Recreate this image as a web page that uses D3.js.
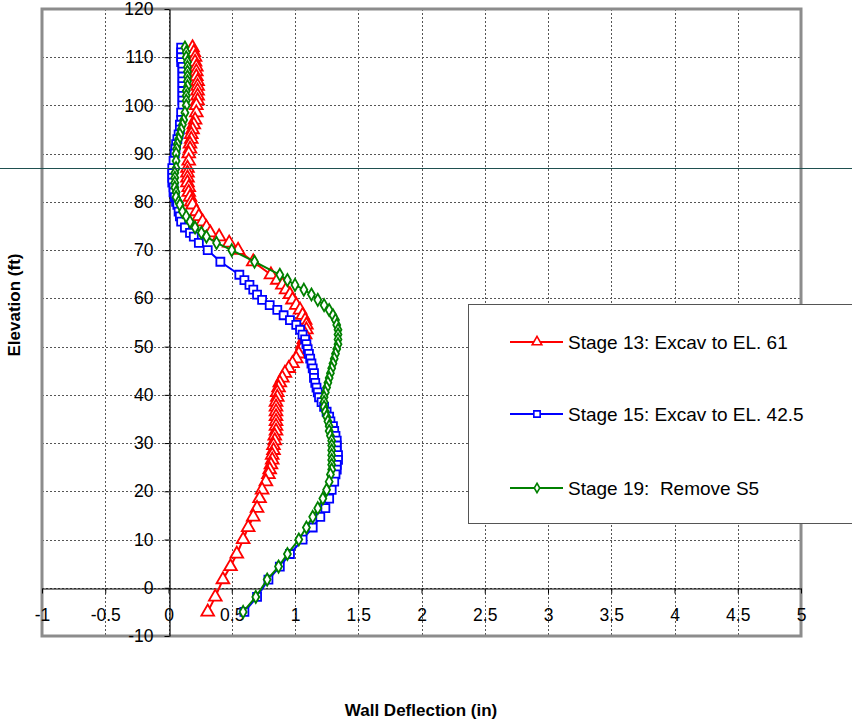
<!DOCTYPE html>
<html>
<head>
<meta charset="utf-8">
<script src="https://cdn.jsdelivr.net/npm/d3@7"></script>
<style>
  html, body { margin: 0; padding: 0; background: #fff; }
  svg { display: block; font-family: "Liberation Sans", Arial, sans-serif; }
  text { white-space: pre; }
</style>
</head>
<body>
<svg id="chart" width="852" height="719"></svg>
<script>
// ---- DATA ----
const elevations = [112, 111, 110, 109, 108, 107, 106, 105, 104, 103, 102, 101, 100, 98.5, 97, 96, 95, 94, 93, 92, 91, 90, 88.5, 87, 86, 85, 84, 83, 82, 81, 80, 79.4, 78, 77, 75.9, 74.7, 73.6, 72.8, 71.5, 70, 67.6, 64.9, 63.8, 62.8, 61.8, 60.8, 59.7, 58.6, 57.6, 56.5, 55.5, 54.5, 53.5, 52.5, 51.5, 50.5, 49.5, 48.5, 47.5, 46.5, 45.5, 44.5, 43.5, 42.5, 41.5, 40.5, 39.5, 38.5, 37.5, 36.5, 35.5, 34.5, 33.5, 32.5, 31.5, 30.5, 29.5, 28.5, 27.5, 26.5, 25.5, 24.5, 23.5, 22, 20.3, 18.5, 16.5, 14.7, 12.5, 10, 7, 4.4, 1.7, -1.9, -5];

const stage13 = [0.19, 0.20, 0.21, 0.21, 0.22, 0.22, 0.22, 0.23, 0.23, 0.23, 0.23, 0.23, 0.22, 0.22, 0.21, 0.20, 0.19, 0.18, 0.18, 0.17, 0.17, 0.16, 0.16, 0.15, 0.15, 0.15, 0.15, 0.16, 0.16, 0.17, 0.18, 0.19, 0.22, 0.24, 0.27, 0.30, 0.33, 0.40, 0.48, 0.55, 0.67, 0.81, 0.86, 0.90, 0.93, 0.96, 0.98, 1.01, 1.04, 1.06, 1.08, 1.09, 1.09, 1.08, 1.07, 1.06, 1.05, 1.03, 1.01, 0.98, 0.95, 0.92, 0.90, 0.88, 0.87, 0.86, 0.86, 0.85, 0.85, 0.85, 0.85, 0.85, 0.85, 0.85, 0.84, 0.84, 0.83, 0.83, 0.82, 0.82, 0.81, 0.80, 0.79, 0.77, 0.74, 0.72, 0.70, 0.67, 0.63, 0.59, 0.54, 0.49, 0.43, 0.37, 0.31];

const stage15 = [0.10, 0.10, 0.10, 0.10, 0.11, 0.11, 0.11, 0.11, 0.11, 0.11, 0.11, 0.11, 0.11, 0.10, 0.10, 0.09, 0.09, 0.08, 0.07, 0.06, 0.055, 0.05, 0.04, 0.03, 0.03, 0.03, 0.03, 0.04, 0.04, 0.05, 0.06, 0.07, 0.08, 0.09, 0.10, 0.13, 0.17, 0.20, 0.24, 0.31, 0.41, 0.56, 0.60, 0.64, 0.67, 0.70, 0.74, 0.80, 0.86, 0.91, 0.96, 1.01, 1.04, 1.06, 1.08, 1.09, 1.10, 1.11, 1.12, 1.13, 1.14, 1.15, 1.15, 1.16, 1.17, 1.18, 1.19, 1.21, 1.23, 1.25, 1.27, 1.28, 1.30, 1.31, 1.32, 1.33, 1.33, 1.33, 1.34, 1.34, 1.33, 1.33, 1.32, 1.31, 1.29, 1.27, 1.24, 1.20, 1.14, 1.06, 0.96, 0.88, 0.79, 0.70, 0.60];

const stage19 = [0.13, 0.14, 0.14, 0.15, 0.15, 0.15, 0.15, 0.15, 0.15, 0.14, 0.14, 0.14, 0.14, 0.13, 0.12, 0.11, 0.10, 0.09, 0.08, 0.07, 0.065, 0.06, 0.06, 0.06, 0.05, 0.05, 0.05, 0.05, 0.06, 0.06, 0.08, 0.09, 0.11, 0.14, 0.17, 0.21, 0.26, 0.30, 0.38, 0.50, 0.68, 0.88, 0.94, 1.00, 1.07, 1.13, 1.18, 1.23, 1.27, 1.30, 1.32, 1.33, 1.34, 1.34, 1.34, 1.34, 1.33, 1.32, 1.31, 1.30, 1.29, 1.28, 1.27, 1.26, 1.25, 1.24, 1.23, 1.23, 1.23, 1.24, 1.25, 1.26, 1.27, 1.27, 1.28, 1.29, 1.29, 1.29, 1.29, 1.29, 1.29, 1.29, 1.28, 1.27, 1.25, 1.22, 1.18, 1.14, 1.09, 1.03, 0.94, 0.87, 0.78, 0.69, 0.59];

const seriesNames = ["Stage 13: Excav to EL. 61", "Stage 15: Excav to EL. 42.5", "Stage 19:  Remove S5"];
const xTickValues = [-1, -0.5, 0, 0.5, 1, 1.5, 2, 2.5, 3, 3.5, 4, 4.5, 5];
const yTickValues = [-10, 0, 10, 20, 30, 40, 50, 60, 70, 80, 90, 100, 110, 120];
const xTitle = "Wall Deflection (in)";
const yTitle = "Elevation (ft)";
const referenceElevation = 87; // horizontal marker line elevation (ft)

// ---- CHART ----
const svg = d3.select("#chart");
const pLeft = 42, pRight = 801, pTop = 9, pBottom = 636;
const x = d3.scaleLinear().domain([-1, 5]).range([pLeft, pRight]);
const y = d3.scaleLinear().domain([-10, 120]).range([pBottom, pTop]);

// gridlines
const grid = svg.append("g");
grid.selectAll("line.v").data(xTickValues.filter(v => v > -1 && v < 5)).join("line")
  .attr("x1", d => Math.round(x(d)) + 0.5).attr("x2", d => Math.round(x(d)) + 0.5)
  .attr("y1", pTop).attr("y2", pBottom)
  .attr("stroke", "#555").attr("stroke-width", 1).attr("stroke-dasharray", "2,2");
grid.selectAll("line.h").data(yTickValues.filter(v => v > -10 && v < 120)).join("line")
  .attr("y1", d => Math.round(y(d)) + 0.5).attr("y2", d => Math.round(y(d)) + 0.5)
  .attr("x1", pLeft).attr("x2", pRight)
  .attr("stroke", "#555").attr("stroke-width", 1).attr("stroke-dasharray", "2,2");

// plot border
svg.append("rect").attr("x", pLeft).attr("y", pTop).attr("width", pRight - pLeft).attr("height", pBottom - pTop)
  .attr("fill", "none").attr("stroke", "#8c8c8c").attr("stroke-width", 3);

// axes
const fmt = d => String(d);
const xAxis = svg.append("g").attr("transform", `translate(0,${Math.round(y(0)) + 0.5})`)
  .call(d3.axisBottom(x).tickValues(xTickValues).tickFormat(fmt).tickSize(5).tickSizeOuter(0).tickPadding(15));
const yAxis = svg.append("g").attr("transform", `translate(${Math.round(x(0)) + 0.5},0)`)
  .call(d3.axisLeft(y).tickValues(yTickValues).tickFormat(fmt).tickSize(5).tickSizeOuter(0).tickPadding(11));
[xAxis, yAxis].forEach(a => {
  a.select(".domain").attr("stroke", "#000").attr("stroke-width", 1.2);
  a.selectAll(".tick line").attr("stroke", "#000");
  a.selectAll("text").attr("font-size", 17.5).attr("font-family", "Liberation Sans, Arial, sans-serif").attr("fill", "#000");
});

// series
const colors = ["#ff0000", "#0000ff", "#008000"];
const allSeries = [stage13, stage15, stage19];
const line = d3.line().x(d => x(d[0])).y(d => y(d[1]));
const symbols = [d3.symbolTriangle, d3.symbolSquare, d3.symbolDiamond];
const symSizes = [70, 64, 42];

allSeries.forEach((vals, i) => {
  const pts = vals.map((v, k) => [v, elevations[k]]);
  const g = svg.append("g");
  g.append("path").datum(pts).attr("d", line).attr("fill", "none")
    .attr("stroke", colors[i]).attr("stroke-width", 2);
  g.selectAll("path.m").data(pts).join("path")
    .attr("transform", d => `translate(${x(d[0])},${y(d[1])})`)
    .attr("d", d3.symbol().type(symbols[i]).size(symSizes[i]))
    .attr("fill", "#fff").attr("stroke", colors[i]).attr("stroke-width", 1.8);
});

// horizontal marker line across the image
svg.append("line").attr("x1", 0).attr("x2", 852)
  .attr("y1", Math.round(y(referenceElevation)) + 0.5).attr("y2", Math.round(y(referenceElevation)) + 0.5)
  .attr("stroke", "#1f5050").attr("stroke-width", 1);

// legend
const lg = svg.append("g");
lg.append("rect").attr("x", 468.5).attr("y", 304.5).attr("width", 400).attr("height", 219)
  .attr("fill", "#fff").attr("stroke", "#555").attr("stroke-width", 1);
const legendY = [342, 414, 488];
const legSizes = [40, 40, 26];
seriesNames.forEach((name, i) => {
  const yy = legendY[i];
  lg.append("line").attr("x1", 510).attr("x2", 563).attr("y1", yy).attr("y2", yy)
    .attr("stroke", colors[i]).attr("stroke-width", 2);
  lg.append("path").attr("transform", `translate(537,${yy})`)
    .attr("d", d3.symbol().type(symbols[i]).size(legSizes[i]))
    .attr("fill", "#fff").attr("stroke", colors[i]).attr("stroke-width", 1.6);
  lg.append("text").attr("x", 568).attr("y", yy + 7).attr("font-size", 19)
    .attr("xml:space", "preserve").text(name);
});

// axis titles
svg.append("text").attr("x", 421).attr("y", 716).attr("text-anchor", "middle")
  .attr("font-size", 17).attr("font-weight", "bold").text(xTitle);
svg.append("text").attr("transform", "translate(20,305) rotate(-90)").attr("text-anchor", "middle")
  .attr("font-size", 17).attr("font-weight", "bold").text(yTitle);
</script>
</body>
</html>
